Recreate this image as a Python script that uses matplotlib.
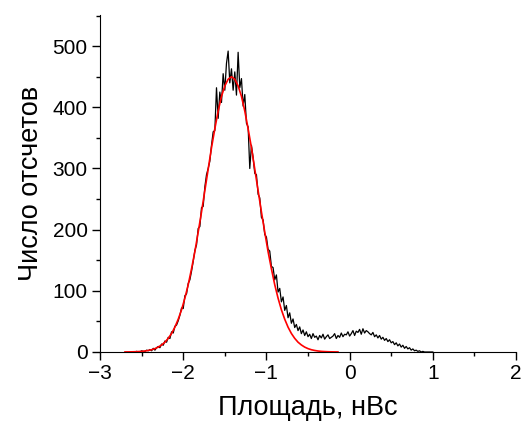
import numpy as np
import matplotlib
matplotlib.use('Agg')
import matplotlib.pyplot as plt
from matplotlib.ticker import MultipleLocator

# histogram: bins of 0.02 nVs starting at -2.60
bin_start = -2.60
bin_width = 0.02
counts = [
    0, 0, 1, 0, 0, 2, 1, 1, 3, 2,
    4, 2, 6, 3, 7, 9, 7, 13, 11, 18,
    16, 24, 22, 33, 31, 42, 44, 51, 60, 72,
    71, 92, 95, 112, 118, 132, 148, 166, 175, 202,
    205, 236, 238, 270, 290, 300, 312, 338, 360, 362,
    432, 382, 425, 408, 455, 428, 472, 492, 440, 463,
    # -1.40 .. -1.00
    428, 458, 420, 490, 432, 447, 402, 421, 374, 368,
    300, 338, 318, 292, 290, 258, 252, 220, 216, 192, 188,
    # -0.98 .. -0.50
    168, 165, 140, 138, 118, 126, 98, 104, 82, 90,
    68, 76, 56, 64, 47, 54, 40, 45, 35, 41,
    30, 36, 27, 33, 25,
    # -0.48 .. 1.00
    29, 22, 30, 24, 26, 20, 27, 23, 29, 21,
    25, 28, 22, 24, 26, 30, 22, 27, 24, 31,
    25, 29, 28, 33, 26, 30, 35, 27, 34, 32,
    37, 29, 38, 31, 35, 33, 30, 28, 32, 25,
    28, 23, 27, 21, 24, 19, 22, 17, 20, 15,
    17, 12, 15, 10, 13, 8, 11, 6, 9, 5,
    7, 3, 5, 2, 3, 1, 2, 0, 1, 0,
    0, 0, 0, 0, 0,
]

fit_start = -2.70
fit_step = 0.04
fit_vals = [
    0.09, 0.15, 0.25, 0.41, 0.66, 1.0, 1.6, 2.5, 3.7, 5.5,
    8.0, 11.5, 16, 22.3, 30.3, 40.6, 53.6, 69, 88, 110,
    136, 164, 196, 229, 264, 299, 334, 365, 394, 418,
    435, 446, 450, 446, 435, 418, 394, 365, 334, 299,
    264, 229, 196, 164, 136, 110, 88, 69, 53.6, 40.6,
    30.3, 22.3, 16, 11.5, 8.0, 5.5, 3.7, 2.5, 1.6, 1.0,
    0.66, 0.41, 0.25, 0.15, 0.09,
]

x_hist = bin_start + bin_width * np.arange(len(counts))
x_fit = fit_start + fit_step * np.arange(len(fit_vals))

plt.rcParams['font.family'] = ['Liberation Sans', 'DejaVu Sans']

fig = plt.figure(figsize=(5.25, 4.28), dpi=100)
ax = fig.add_axes([0.1905, 0.1776, 0.7924, 0.7874])

ax.plot(x_hist, counts, color='black', lw=0.9)
ax.plot(x_fit, fit_vals, color='red', lw=1.2)

ax.set_xlim(-3, 2)
ax.set_ylim(0, 551)
ax.xaxis.set_major_locator(MultipleLocator(1))
ax.xaxis.set_minor_locator(MultipleLocator(0.5))
ax.yaxis.set_major_locator(MultipleLocator(100))
ax.yaxis.set_minor_locator(MultipleLocator(50))
ax.spines['top'].set_visible(False)
ax.spines['right'].set_visible(False)
ax.tick_params(which='major', direction='out', length=6, width=1,
               labelsize=15, pad=3)
ax.tick_params(which='minor', direction='out', length=3, width=1)

ax.set_xlabel('Площадь, нВс', fontsize=19.5, labelpad=8)
ax.set_ylabel('Число отсчетов', fontsize=19.5, labelpad=6)

plt.savefig('out.png', dpi=100)
